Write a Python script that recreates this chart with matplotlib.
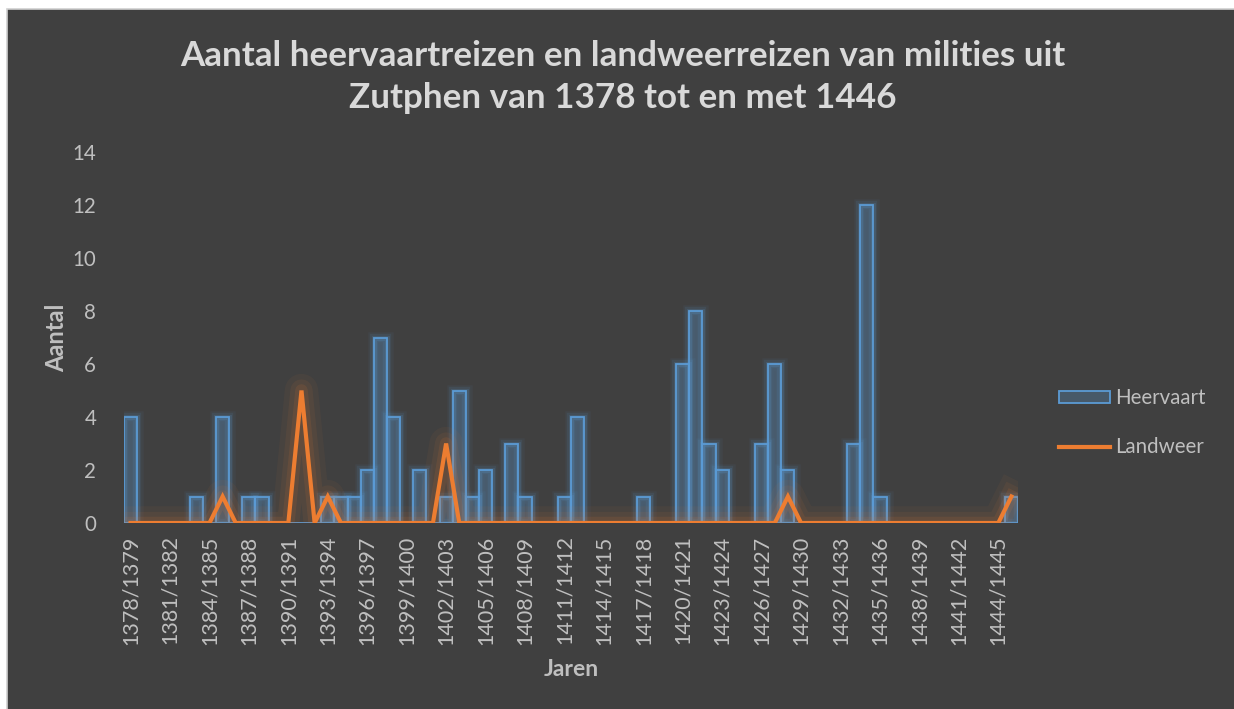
import matplotlib
matplotlib.use("Agg")
import matplotlib.pyplot as plt
import matplotlib.patheffects as pe
from matplotlib.patches import Rectangle
from matplotlib.lines import Line2D
import numpy as np

# jaren 1378/1379 .. 1445/1446
start_years = list(range(1378, 1446))
jaren = [f"{y}/{y + 1}" for y in start_years]

heervaart = [4, 0, 0, 0, 0, 1, 0, 4, 0, 1,
             1, 0, 0, 0, 0, 1, 1, 1, 2, 7,
             4, 0, 2, 0, 1, 5, 1, 2, 0, 3,
             1, 0, 0, 1, 4, 0, 0, 0, 0, 1,
             0, 0, 6, 8, 3, 2, 0, 0, 3, 6,
             2, 0, 0, 0, 0, 3, 12, 1, 0, 0,
             0, 0, 0, 0, 0, 0, 0, 1]
landweer = [0, 0, 0, 0, 0, 0, 0, 1, 0, 0,
            0, 0, 0, 5, 0, 1, 0, 0, 0, 0,
            0, 0, 0, 0, 3, 0, 0, 0, 0, 0,
            0, 0, 0, 0, 0, 0, 0, 0, 0, 0,
            0, 0, 0, 0, 0, 0, 0, 0, 0, 0,
            1, 0, 0, 0, 0, 0, 0, 0, 0, 0,
            0, 0, 0, 0, 0, 0, 0, 1]

BG = "#404040"
BLUE = "#5B9BD5"
ORANGE = "#ED7D31"
TXT = "#BFBFBF"
FONT = ["Lato", "DejaVu Sans"]

plt.rcParams["font.family"] = FONT

fig = plt.figure(figsize=(12.34, 7.09), dpi=100)
fig.patch.set_facecolor("white")
fig.patches.append(Rectangle((7 / 1234, -0.01), 1.0, 1 - 9 / 709 + 0.01,
                             transform=fig.transFigure, facecolor=BG,
                             edgecolor="#D0D0D0", linewidth=1.2, zorder=-5))

ax = fig.add_axes([124 / 1234, 1 - 523 / 709, 894 / 1234, 371 / 709])
ax.set_facecolor("none")

x = np.arange(len(jaren))
h = np.array(heervaart)

# glow behind the bars
nz = h > 0
for lw, a in [(9, 0.06), (6, 0.10), (3.5, 0.18)]:
    ax.bar(x[nz], h[nz], width=1.0, fill=False, edgecolor=BLUE, alpha=a,
           linewidth=lw, zorder=1)
bars = ax.bar(x, h, width=1.0, facecolor=(0.357, 0.608, 0.835, 0.28),
              edgecolor=BLUE, linewidth=1.3, label="Heervaart", zorder=2)

glow = [pe.Stroke(linewidth=w, foreground=ORANGE, alpha=a, joinstyle="round")
        for w, a in [(24, 0.05), (16, 0.07), (9, 0.11)]]
ax.plot(x, landweer, color=ORANGE, linewidth=3, label="Landweer", zorder=3,
        solid_joinstyle="miter", path_effects=glow + [pe.Normal()])

ax.set_xlim(-0.5, len(jaren) - 0.5)
ax.set_ylim(0, 14)
ax.set_yticks(range(0, 15, 2))
ax.set_xticks(x[::3])
ax.set_xticklabels(jaren[::3], rotation=90, fontsize=15.5)
ax.tick_params(axis="both", length=0, colors=TXT)
ax.tick_params(axis="y", labelsize=14.8, pad=20)
ax.tick_params(axis="x", pad=9)
for s in ax.spines.values():
    s.set_visible(False)

ax.set_ylabel("Aantal", color=TXT, fontsize=17, fontweight="bold", labelpad=3)
ax.set_xlabel("Jaren", color=TXT, fontsize=16.5, fontweight="bold", labelpad=10)

fig.text(623 / 1234, 1 - 40 / 709,
         "Aantal heervaartreizen en landweerreizen van milities uit\n"
         "Zutphen van 1378 tot en met 1446",
         ha="center", va="top", color="#D9D9D9", fontsize=25.2,
         fontweight="bold", linespacing=1.38)

# legend line without the glow
line_handle = Line2D([], [], color=ORANGE, linewidth=3)
leg = fig.legend([bars, line_handle], ["Heervaart", "Landweer"], loc="upper left",
                 bbox_to_anchor=(1040 / 1234, 1 - 370 / 709),
                 frameon=False, fontsize=14.8, handlelength=2.5,
                 handleheight=0.55, handletextpad=0.25, labelspacing=1.4)
for t in leg.get_texts():
    t.set_color(TXT)

fig.savefig("out.png", dpi=100, facecolor=fig.get_facecolor())
